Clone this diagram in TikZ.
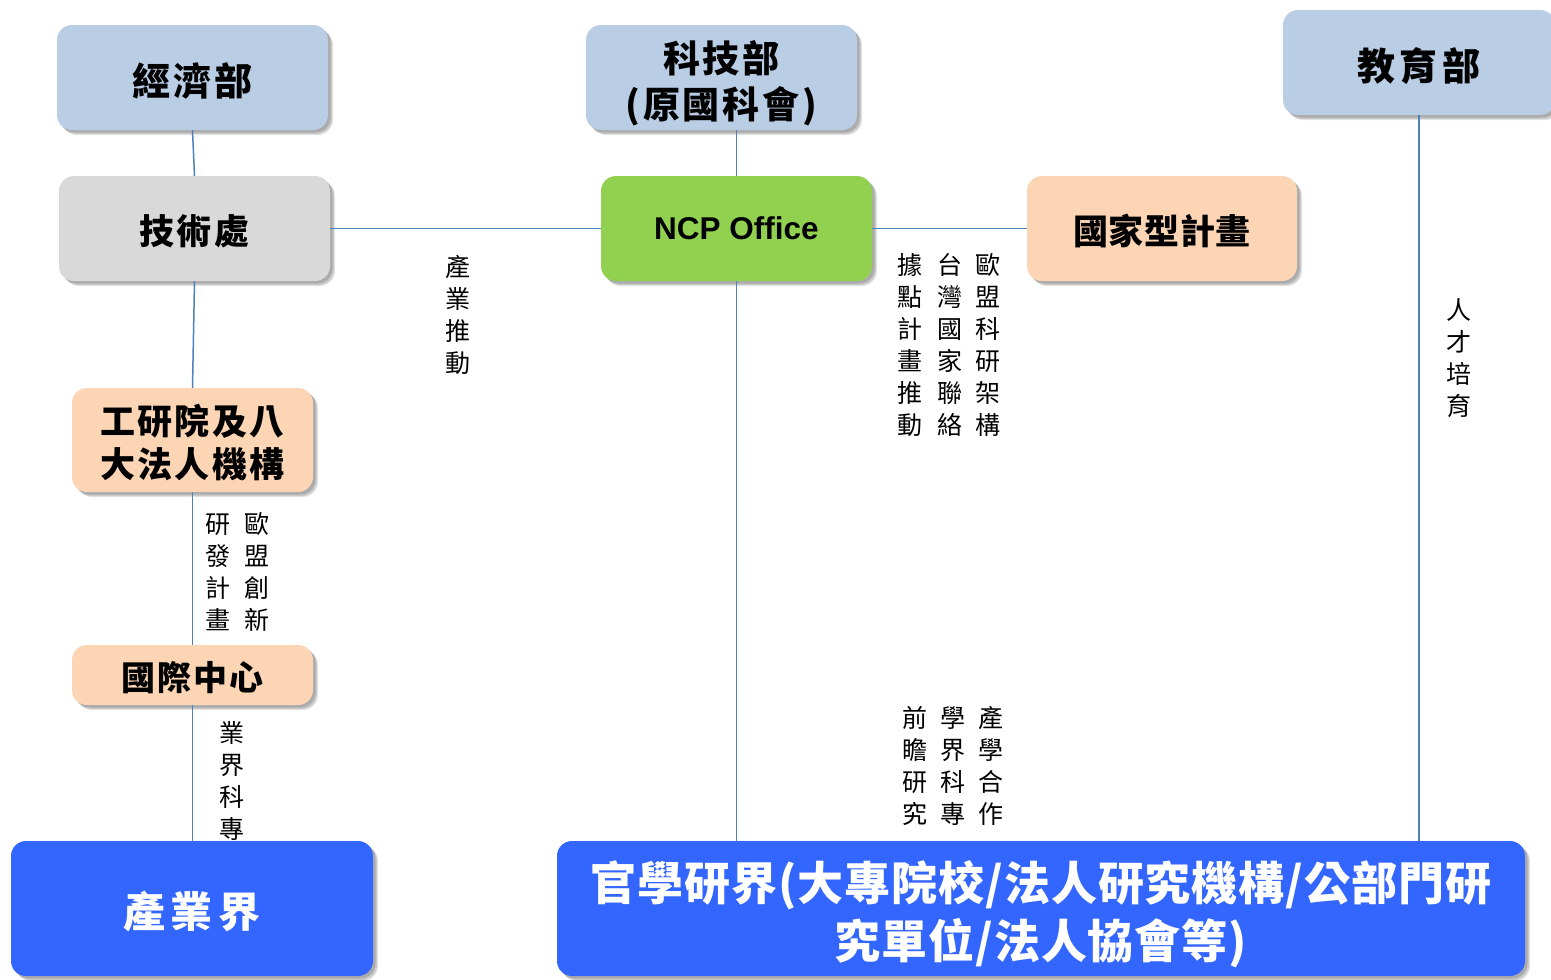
\documentclass[tikz,border=0pt]{standalone}
\usepackage{fontspec}
\setmainfont{Liberation Sans}
\newfontfamily\cjk{Noto Sans CJK TC}
\usetikzlibrary{shadows}
\definecolor{boxblue}{HTML}{B9CDE5}
\definecolor{boxgray}{HTML}{D9D9D9}
\definecolor{boxgreen}{HTML}{92D050}
\definecolor{boxpeach}{HTML}{FCD5B5}
\definecolor{deepblue}{HTML}{3366FF}
\definecolor{linkblue}{HTML}{4F81BD}
\newcommand{\lowstrut}[1]{\rule{0pt}{#1}}
\begin{document}
\begin{tikzpicture}[x=1pt,y=-1pt,
  box/.style={rounded corners=15pt, inner sep=0pt, align=center,
    drop shadow={shadow xshift=5pt, shadow yshift=-5pt, fill=black, opacity=0.10},
    drop shadow={shadow xshift=4pt, shadow yshift=-4pt, fill=black, opacity=0.12},
    drop shadow={shadow xshift=2.5pt, shadow yshift=-2.5pt, fill=black, opacity=0.15}},
  link/.style={draw=linkblue, line width=1.5pt},
  vlab/.style={inner sep=0pt, align=center, font=\cjk\fontsize{25}{32}\selectfont}
]
\useasboundingbox (0,0) rectangle (1551,980);
% boxes
\node[box, fill=boxblue, minimum width=271pt, minimum height=105pt,
  font=\cjk\bfseries\fontsize{38}{46}\selectfont\addfontfeature{LetterSpace=8}] (jj) at (192.5,77.5) {\lowstrut{40pt}經濟部};
\node[box, fill=boxblue, minimum width=271pt, minimum height=105pt,
  font=\cjk\bfseries\fontsize{37}{46}\selectfont\addfontfeature{LetterSpace=8}] (kj) at (721.5,77.5) {\lowstrut{44pt}科技部\\(原國科會)};
\node[box, fill=boxblue, minimum width=272pt, minimum height=105pt,
  font=\cjk\bfseries\fontsize{38}{46}\selectfont\addfontfeature{LetterSpace=13}] (jy) at (1419,62.5) {\lowstrut{40pt}教育部};
\node[box, fill=boxgray, minimum width=271pt, minimum height=105pt,
  font=\cjk\bfseries\fontsize{35}{40}\selectfont\addfontfeature{LetterSpace=6}] (js) at (194.5,228.5) {\lowstrut{36pt}技術處};
\node[box, fill=boxgreen, minimum width=271pt, minimum height=105pt,
  font=\bfseries\fontsize{31.5}{36}\selectfont] (ncp) at (736.5,228.5) {NCP Office};
\node[box, fill=boxpeach, minimum width=270pt, minimum height=105pt,
  font=\cjk\bfseries\fontsize{35}{40}\selectfont\addfontfeature{LetterSpace=2}] (gj) at (1162,228.5) {\lowstrut{36pt}國家型計畫};
\node[box, fill=boxpeach, minimum width=241pt, minimum height=104pt,
  font=\cjk\bfseries\fontsize{35}{43}\selectfont\addfontfeature{LetterSpace=6}] (gy) at (192.5,440) {\lowstrut{36pt}工研院及八\\大法人機構};
\node[box, fill=boxpeach, minimum width=241pt, minimum height=60pt,
  font=\cjk\bfseries\fontsize{34}{40}\selectfont\addfontfeature{LetterSpace=6}] (gc) at (192.5,675) {\lowstrut{35pt}國際中心};
\node[box, fill=deepblue, text=white, minimum width=362pt, minimum height=135pt,
  font=\cjk\bfseries\fontsize{42}{50}\selectfont\addfontfeature{LetterSpace=14}] (cy) at (192,908.5) {\lowstrut{42pt}產業界};
\node[box, fill=deepblue, text=white, minimum width=968pt, minimum height=135pt,
  font=\cjk\bfseries\fontsize{46}{58}\selectfont\addfontfeature{LetterSpace=2}] (gx) at (1041,908.5) {\lowstrut{52pt}官學研界(大專院校/法人研究機構/公部門研\\究單位/法人協會等)};
% connectors
\draw[link] (jj.south) -- (js.north);
\draw[link] (js.south) -- (gy.north);
\draw[link] (gy.south) -- (gc.north);
\draw[link] (gc.south) -- (gc.south |- cy.north);
\draw[link] (ncp.north) -- (ncp.north |- kj.south);
\draw[link] (js.east) -- (ncp.west);
\draw[link] (ncp.east) -- (gj.west);
\draw[link] (ncp.south) -- (ncp.south |- gx.north);
\draw[link] (jy.south) -- (jy.south |- gx.north);
% labels
\node[vlab] (l1) at (458,315) {產\\業\\推\\動};
\node[vlab] (l2a) at (988,345) {歐\\盟\\科\\研\\架\\構};
\node[vlab] (l2b) at (950,345) {台\\灣\\國\\家\\聯\\絡};
\node[vlab] (l2c) at (910,345) {據\\點\\計\\畫\\推\\動};
\node[vlab] (l3) at (1459,358) {人\\才\\培\\育};
\node[vlab] (l4a) at (257,572) {歐\\盟\\創\\新};
\node[vlab] (l4b) at (218,572) {研\\發\\計\\畫};
\node[vlab] (l5) at (232,781) {業\\界\\科\\專};
\node[vlab] (l6a) at (991,766) {產\\學\\合\\作};
\node[vlab] (l6b) at (953,766) {學\\界\\科\\專};
\node[vlab] (l6c) at (915,766) {前\\瞻\\研\\究};
\end{tikzpicture}
\end{document}
